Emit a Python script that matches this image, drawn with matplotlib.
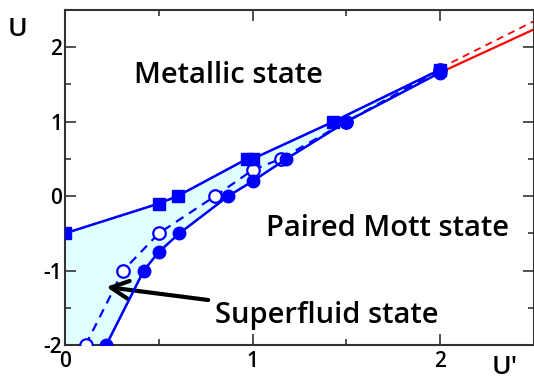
import matplotlib
matplotlib.use('Agg')
import matplotlib.pyplot as plt
from matplotlib.ticker import MultipleLocator

plt.rcParams['font.family'] = ['Open Sans', 'DejaVu Sans']
plt.rcParams['font.weight'] = 'semibold'

# phase boundaries in the (U', U) plane
sq_x = [0.0, 0.5, 0.6, 0.97, 1.0, 1.43, 2.0]
sq_y = [-0.5, -0.1, 0.0, 0.5, 0.5, 1.0, 1.7]

fc_x = [0.22, 0.42, 0.5, 0.61, 0.87, 1.0, 1.18, 1.5, 2.0]
fc_y = [-2.0, -1.0, -0.75, -0.5, 0.0, 0.2, 0.5, 1.0, 1.66]

oc_x = [0.11, 0.31, 0.5, 0.8, 1.0, 1.15, 1.5, 2.0]
oc_y = [-2.0, -1.0, -0.5, 0.0, 0.35, 0.5, 1.0, 1.7]

# extrapolations beyond U' = 2
ext_x = [2.0, 2.5]
ext_solid = [1.66, 2.24]
ext_dash = [1.72, 2.35]

blue = '#0000ff'

fig = plt.figure(figsize=(5.34, 3.8), dpi=100)
ax = fig.add_axes([65/534, 35/380, 469/534, 335/380])

# superfluid region between the square and filled-circle lines
px = [0.0] + sq_x + fc_x[::-1]
py = [-2.0] + sq_y + fc_y[::-1]
ax.fill(px, py, facecolor='#e0ffff', edgecolor='black', linewidth=1.0, zorder=1)

ax.plot(ext_x, ext_solid, color='red', lw=1.6, zorder=2)
ax.plot(ext_x, ext_dash, color='red', lw=1.3, ls=(0, (4, 3)), zorder=2)

ax.plot(oc_x, oc_y, color=blue, lw=1.6, ls=(0, (4, 3)), marker='o', ms=9,
        mfc='white', mec=blue, mew=1.6, zorder=3)
ax.plot(fc_x, fc_y, color=blue, lw=1.8, marker='o', ms=9, mfc=blue, mec=blue, zorder=4)
ax.plot(sq_x, sq_y, color=blue, lw=1.8, marker='s', ms=8.5, mfc=blue, mec=blue, zorder=5)

ax.set_xlim(0, 2.5)
ax.set_ylim(-2, 2.5)
ax.xaxis.set_minor_locator(MultipleLocator(0.5))
ax.yaxis.set_minor_locator(MultipleLocator(0.5))
ax.tick_params(which='both', direction='in', top=True, right=True,
               labelsize=15, width=1.2, color='#333333')
ax.tick_params(which='major', length=8, pad=4)
ax.tick_params(which='minor', length=4)
ax.tick_params(axis='y', pad=2)
ax.set_xticks([0, 1, 2])
ax.set_xticklabels(['0', '1', '2'])
ax.set_yticks([-2, -1, 0, 1, 2])
ax.set_yticklabels(['-2', '-1', '0', '1', '2'])
for s in ax.spines.values():
    s.set_linewidth(1.5)
    s.set_color('#333333')

ax.text(0.37, 1.62, 'Metallic state', fontsize=21, va='center', ha='left')
ax.text(1.07, -0.44, 'Paired Mott state', fontsize=21, va='center', ha='left')
ax.annotate('Superfluid state', xy=(0.22, -1.22), xytext=(0.8, -1.6),
            fontsize=21, va='center', ha='left',
            arrowprops=dict(arrowstyle='->', color='black', lw=3,
                            mutation_scale=32, shrinkA=3, shrinkB=0))

fig.text(18/534, 1 - 30/380, 'U', fontsize=19, ha='center', va='center')
fig.text(505/534, 1 - 368/380, "U'", fontsize=19, ha='center', va='center')

fig.savefig('out.png', dpi=100)
